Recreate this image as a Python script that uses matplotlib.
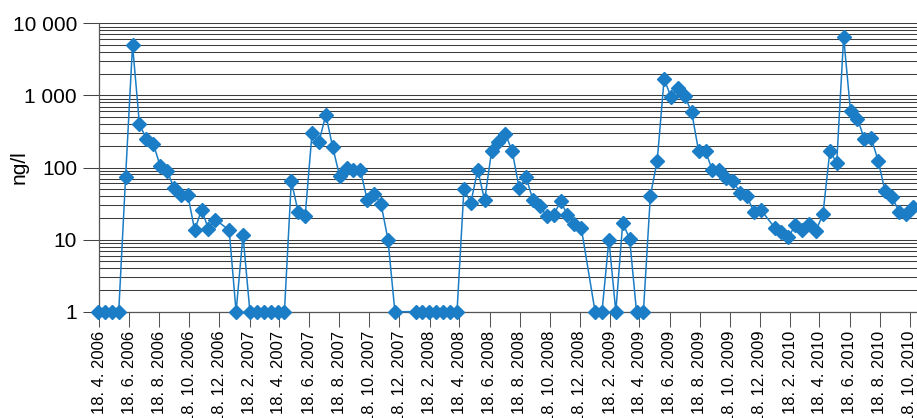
import matplotlib
matplotlib.use("Agg")
import matplotlib.pyplot as plt
import matplotlib.dates as mdates
import matplotlib.ticker as mticker
import pandas as pd

plt.rcParams['font.family'] = ['Liberation Sans', 'DejaVu Sans']

# Fortnightly sampling grid; None marks a fortnight without a sample
sample_start = "2006-04-16"
sample_step_days = 14
concentration = [
    1, 1, 1, 1, 75, 5000, 400, 250, 215, 105,
    90, 52, 42, 42, 13.5, 26, 14, 19, None, 13.5,
    1, 11.5, 1, 1, 1, 1, 1, 1, 65, 24,
    21, 300, 225, 540, 190, 76, 100, 91, 93, 35,
    43, 31, 10, 1, None, None, 1, 1, 1, 1,
    1, 1, 1, 50, 32.5, 93, 35, 167, 225, 294,
    167, 52, 73, 35.5, 29, 21, 22, 34, 22, 16.5,
    14.5, None, 1, 1, 10, 1, 17, 10.3, 1, 1,
    40, 125, 1690, 950, 1270, 970, 580, 167, 167, 91,
    91, 72, 64, 45, 40, 24, 26, None, 14.7, 12.6,
    10.7, 16, 13.6, 16.5, 13.3, 22.5, 167, 117, 6450, 600,
    475, 250, 255, 124, 47, 39.5, 24.5, 23, 28.7,
]

axis_start = "2006-04-18"
axis_end = "2010-11-18"
y_range = (1, 10000)
series_color = "#1b7dc5"
grid_color = "#3c3c3c"

dates = pd.date_range(sample_start, periods=len(concentration),
                      freq=f"{sample_step_days}D")
x_vals = [d for d, v in zip(dates, concentration) if v is not None]
y_vals = [v for v in concentration if v is not None]

W, H = 917, 418
fig = plt.figure(figsize=(W / 100, H / 100), dpi=100)
ax = fig.add_axes([99 / W, (H - 311.7) / H, (925 - 99) / W, (311.7 - 23.3) / H])

ax.plot(x_vals, y_vals, color=series_color, lw=1.1, marker='D', ms=7,
        mfc=series_color, mec=series_color, clip_on=False, zorder=4)

ax.set_yscale('log')
ax.set_ylim(*y_range)
ax.set_xlim(pd.Timestamp(axis_start), pd.Timestamp(axis_end))

ax.yaxis.set_major_locator(mticker.LogLocator(base=10, numticks=10))
ax.yaxis.set_minor_locator(mticker.LogLocator(base=10, subs=range(2, 10), numticks=50))
ax.yaxis.set_major_formatter(
    mticker.FuncFormatter(lambda v, pos: f"{int(round(v)):,}".replace(",", " ")))
ax.yaxis.set_minor_formatter(mticker.NullFormatter())
ax.yaxis.grid(True, which='both', color=grid_color, lw=0.75)
ax.set_axisbelow(True)

ax.xaxis.set_major_locator(mdates.MonthLocator(bymonth=[2, 4, 6, 8, 10, 12], bymonthday=18))


def date_label(v, pos):
    d = mdates.num2date(v)
    return f"{d.day}. {d.month}. {d.year}"


ax.xaxis.set_major_formatter(mticker.FuncFormatter(date_label))

ax.tick_params(axis='y', which='major', length=11.5, width=0.75, color='#444444',
               labelsize=15, pad=4.3)
ax.tick_params(axis='y', which='minor', length=0)
ax.tick_params(axis='x', which='major', length=10.8, width=0.75, color='#555555',
               labelsize=12, pad=3, labelrotation=90)
for lbl in ax.get_xticklabels():
    lbl.set_va('top')
    lbl.set_ha('center')

for side in ('top', 'right'):
    ax.spines[side].set_visible(False)
for side in ('left', 'bottom'):
    ax.spines[side].set_color('#555555')
    ax.spines[side].set_linewidth(0.9)

fig.text(19 / W, 1 - 167 / H, "ng/l", rotation=90, ha='center', va='center', fontsize=15)

fig.savefig("out.png", dpi=100)
